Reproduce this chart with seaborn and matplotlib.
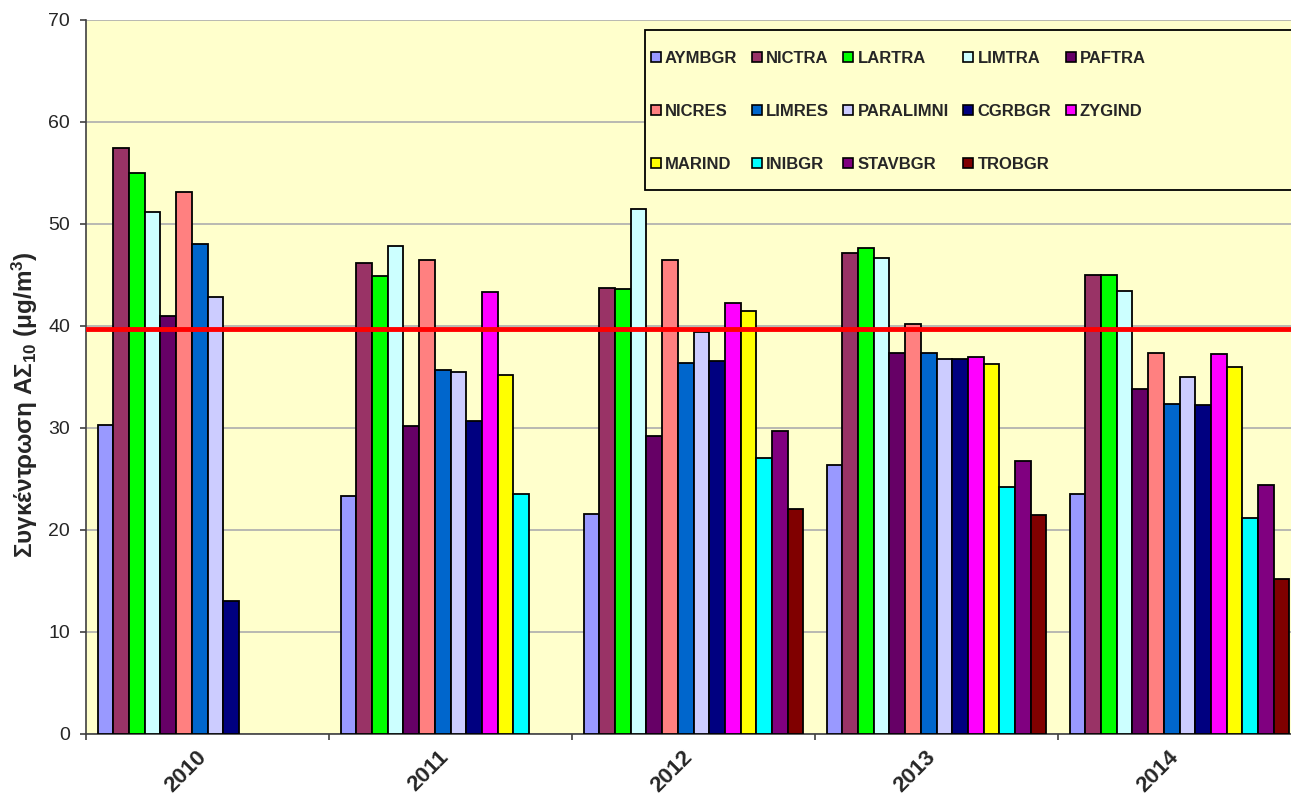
import pandas as pd
import seaborn as sns
import matplotlib.pyplot as plt
import matplotlib.transforms as mtransforms
from matplotlib.patches import Patch, Rectangle
from matplotlib.ticker import FixedLocator

years = ['2010', '2011', '2012', '2013', '2014']
stations = ['AYMBGR', 'NICTRA', 'LARTRA', 'LIMTRA', 'PAFTRA',
            'NICRES', 'LIMRES', 'PARALIMNI', 'CGRBGR', 'ZYGIND',
            'MARIND', 'INIBGR', 'STAVBGR', 'TROBGR']
colors = ['#9999FF', '#993366', '#00FF00', '#CCFFFF', '#660066',
          '#FF8080', '#0066CC', '#CCCCFF', '#000080', '#FF00FF',
          '#FFFF00', '#00FFFF', '#800080', '#800000']

# one list per station, values for 2010..2014 (None = no data)
AYMBGR = [30.3, 23.3, 21.6, 26.4, 23.5]
NICTRA = [57.5, 46.2, 43.7, 47.2, 45.0]
LARTRA = [55.0, 44.9, 43.6, 47.6, 45.0]
LIMTRA = [51.2, 47.8, 51.5, 46.7, 43.4]
PAFTRA = [41.0, 30.2, 29.2, 37.4, 33.8]
NICRES = [53.1, 46.5, 46.5, 40.2, 37.4]
LIMRES = [48.0, 35.7, 36.4, 37.4, 32.4]
PARALIMNI = [42.8, 35.5, 39.4, 36.8, 35.0]
CGRBGR = [13.0, 30.7, 36.6, 36.8, 32.3]
ZYGIND = [None, 43.3, 42.3, 37.0, 37.3]
MARIND = [None, 35.2, 41.5, 36.3, 36.0]
INIBGR = [None, 23.5, 27.1, 24.2, 21.2]
STAVBGR = [None, None, 29.7, 26.8, 24.4]
TROBGR = [None, None, 22.1, 21.5, 15.2]

limit_value = 39.7

series = [AYMBGR, NICTRA, LARTRA, LIMTRA, PAFTRA, NICRES, LIMRES,
          PARALIMNI, CGRBGR, ZYGIND, MARIND, INIBGR, STAVBGR, TROBGR]

rows = []
for st, vals in zip(stations, series):
    for yr, v in zip(years, vals):
        rows.append({'Year': yr, 'Station': st, 'Value': v})
df = pd.DataFrame(rows).dropna()

sns.set_style('white')
plt.rcParams['font.family'] = ['Liberation Sans', 'DejaVu Sans']
plt.rcParams['mathtext.fontset'] = 'custom'
plt.rcParams['mathtext.rm'] = 'Liberation Sans:bold'
plt.rcParams['mathtext.it'] = 'Liberation Sans:bold'
plt.rcParams['mathtext.bf'] = 'Liberation Sans:bold'

fig = plt.figure(figsize=(12.91, 7.98), dpi=100)
ax = fig.add_axes([86 / 1291, 64 / 798, 1215 / 1291, 714 / 798])
ax.set_facecolor('#FFFFCC')

sns.barplot(
    data=df,
    x='Year',
    y='Value',
    hue='Station',
    order=years,
    hue_order=stations,
    palette=colors,
    saturation=1,
    width=0.905,
    errorbar=None,
    edgecolor='black',
    linewidth=1.3,
    legend=False,
    ax=ax,
    zorder=3
)

ax.axhline(limit_value, color='#FF0000', linewidth=3.5, zorder=4)

ax.set_xlim(-0.5, 4.5)
ax.set_ylim(0, 70)
ax.set_yticks(range(0, 71, 10))
ax.yaxis.grid(True, color='#ADADAD', linewidth=1.2, zorder=0)
ax.set_axisbelow(True)

for side in ['top', 'right']:
    ax.spines[side].set_visible(False)
ax.spines['left'].set_color('#404040')
ax.spines['bottom'].set_color('#404040')
ax.spines['left'].set_linewidth(1.2)
ax.spines['bottom'].set_linewidth(1.2)

ax.tick_params(axis='y', direction='out', length=4.5, width=1.2,
               color='#404040', labelsize=14, pad=7, left=True)
ax.tick_params(axis='x', which='major', length=0, pad=9)
ax.xaxis.set_minor_locator(FixedLocator([-0.5, 0.5, 1.5, 2.5, 3.5, 4.5]))
ax.tick_params(axis='x', which='minor', direction='out', length=4.5,
               width=1.2, color='#404040', bottom=True)
ax.set_xticks(range(len(years)))
ax.set_xticklabels(years, rotation=45, ha='right', rotation_mode='anchor',
                   fontsize=16, fontweight='bold')
shift = mtransforms.ScaledTranslation(-12 / 100, 0, fig.dpi_scale_trans)
for lab in ax.get_xticklabels():
    lab.set_transform(lab.get_transform() + shift)

ax.set_xlabel('')
ax.set_ylabel(r'Συγκέντρωση ΑΣ$_{10}$ (μg/m$^{3}$)', fontsize=17.5,
              fontweight='bold')
ax.yaxis.set_label_coords(-0.038, 0.462)

# legend box
ax.add_patch(Rectangle((0.460, 0.762), 0.6, 0.224, transform=ax.transAxes,
                       facecolor='#FFFFCC', edgecolor='black',
                       linewidth=1.3, zorder=5, clip_on=True))

handles = [Patch(facecolor=c, edgecolor='black', linewidth=1.2)
           for c in colors]
ncol = 5
nrow = 3
order = []
for c in range(ncol):
    for r in range(nrow):
        i = r * ncol + c
        if i < len(stations):
            order.append(i)
leg = ax.legend(
    [handles[i] for i in order], [stations[i] for i in order],
    ncol=ncol, loc='upper left', bbox_to_anchor=(0.4524, 0.978),
    frameon=False, prop={'weight': 'bold', 'size': 12},
    handlelength=0.6, handleheight=0.6, handletextpad=0.25,
    columnspacing=0.87, labelspacing=2.28, borderpad=0.4
)
leg.set_zorder(6)

fig.savefig('out.png', dpi=100)
